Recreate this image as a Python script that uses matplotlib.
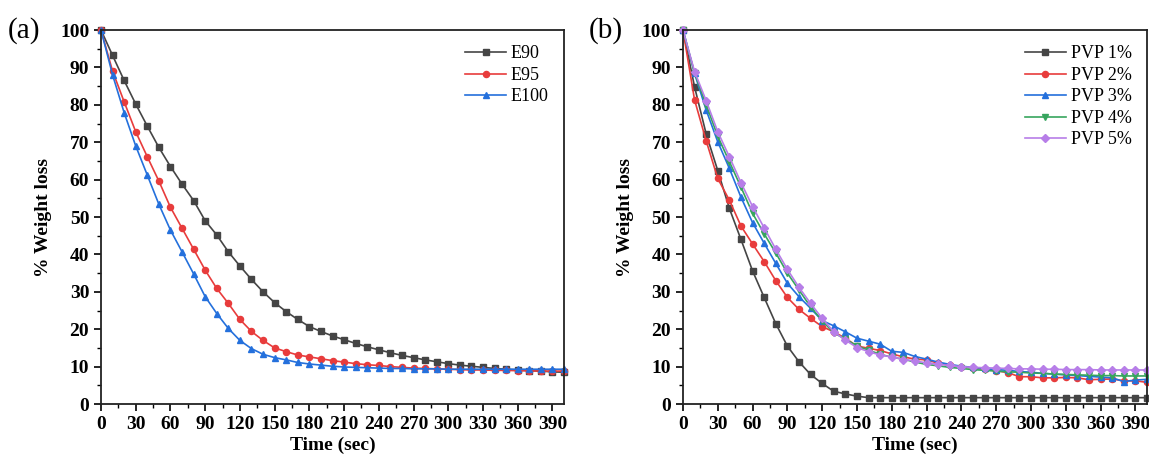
import numpy as np
import matplotlib
matplotlib.use('Agg')
import matplotlib.pyplot as plt
from matplotlib.ticker import MultipleLocator

# Tiempo de muestreo (s)
time = np.arange(0, 410, 10)

# (a) Pérdida de peso por grado de etanol
e90 = [100, 93.2, 86.5, 80.2, 74.3, 68.6, 63.5, 58.8, 54.4, 49.0, 45.2, 40.7, 36.9,
       33.3, 30.0, 27.1, 24.7, 22.6, 20.7, 19.4, 18.2, 17.2, 16.2, 15.3, 14.5, 13.7,
       13.0, 12.4, 11.8, 11.3, 10.8, 10.4, 10.1, 9.8, 9.5, 9.3, 9.1, 8.9, 8.8, 8.6, 8.5]
e95 = [100, 89.0, 80.8, 72.8, 66.1, 59.6, 52.6, 47.0, 41.4, 35.8, 30.9, 26.9, 22.6,
       19.4, 17.0, 15.0, 14.0, 13.1, 12.6, 12.1, 11.6, 11.2, 10.8, 10.5, 10.3, 10.0,
       9.8, 9.6, 9.5, 9.4, 9.3, 9.2, 9.1, 9.1, 9.0, 9.0, 8.9, 8.9, 8.8, 8.8, 8.8]
e100 = [100, 88.0, 77.9, 69.0, 61.2, 53.4, 46.5, 40.7, 34.8, 28.7, 24.2, 20.2, 17.0,
        14.8, 13.3, 12.4, 11.8, 11.1, 10.7, 10.4, 10.1, 9.9, 9.8, 9.7, 9.6, 9.5,
        9.5, 9.4, 9.4, 9.4, 9.3, 9.3, 9.3, 9.3, 9.3, 9.3, 9.3, 9.3, 9.3, 9.3, 9.3]

# (b) Pérdida de peso por concentración de PVP
pvp1 = [100, 84.8, 72.2, 62.4, 52.3, 44.0, 35.6, 28.5, 21.5, 15.5, 11.3, 7.9, 5.5,
        3.4, 2.7, 2.1, 1.7, 1.7, 1.7, 1.7, 1.7, 1.7, 1.7, 1.7, 1.7, 1.7,
        1.7, 1.7, 1.7, 1.7, 1.7, 1.7, 1.7, 1.7, 1.7, 1.7, 1.7, 1.7, 1.7, 1.7, 1.7]
pvp2 = [100, 81.3, 70.4, 60.3, 54.5, 47.6, 42.8, 38.1, 33.0, 28.5, 25.3, 22.9, 20.7,
        19.3, 17.6, 15.5, 14.9, 14.3, 13.4, 12.6, 12.0, 11.8, 10.9, 10.4, 10.0, 9.6,
        9.3, 8.9, 8.4, 7.3, 7.3, 7.0, 7.0, 7.1, 7.0, 6.5, 6.6, 6.7, 6.2, 6.2, 5.8]
pvp3 = [100, 88.4, 78.6, 70.1, 63.0, 55.3, 48.5, 43.0, 37.6, 32.3, 28.7, 25.6, 22.3,
        20.9, 19.3, 17.6, 16.8, 16.0, 14.1, 13.8, 12.7, 12.0, 11.2, 10.6, 10.1, 9.8,
        9.5, 9.2, 9.0, 8.7, 8.5, 8.2, 8.0, 7.8, 7.6, 7.4, 7.2, 7.0, 6.0, 6.4, 6.6]
pvp4 = [100, 88.5, 80.0, 71.6, 64.8, 58.0, 51.0, 45.5, 40.4, 35.0, 30.5, 26.0, 22.3,
        19.0, 17.4, 15.5, 14.4, 13.3, 12.5, 12.0, 11.2, 10.6, 10.2, 9.8, 9.5, 9.2,
        9.0, 8.8, 8.6, 8.5, 8.3, 8.2, 8.0, 7.9, 7.8, 7.7, 7.6, 7.6, 7.5, 7.5, 7.5]
pvp5 = [100, 88.9, 81.1, 72.8, 66.1, 59.2, 52.8, 47.1, 41.4, 36.0, 31.2, 26.9, 22.9,
        19.3, 17.1, 15.1, 14.0, 13.1, 12.6, 11.9, 11.5, 11.0, 10.6, 10.3, 10.0, 9.8,
        9.7, 9.6, 9.5, 9.4, 9.4, 9.3, 9.3, 9.2, 9.2, 9.2, 9.1, 9.1, 9.1, 9.1, 9.1]

black = '#454545'
red = '#e83c3c'
blue = '#2470dc'
green = '#37a55e'
purple = '#b77ee8'

plt.rcParams['font.family'] = ['Liberation Serif', 'DejaVu Serif']

fig = plt.figure(figsize=(11.49, 4.63), dpi=100)
ax_a = fig.add_axes([0.0879, 0.1274, 0.4030, 0.8078])
ax_b = fig.add_axes([0.5944, 0.1274, 0.4038, 0.8078])

series_a = [(e90, 'E90', black, 's'), (e95, 'E95', red, 'o'), (e100, 'E100', blue, '^')]
series_b = [(pvp1, 'PVP 1%', black, 's'), (pvp2, 'PVP 2%', red, 'o'),
            (pvp3, 'PVP 3%', blue, '^'), (pvp4, 'PVP 4%', green, 'v'),
            (pvp5, 'PVP 5%', purple, 'D')]

for ax, series in [(ax_a, series_a), (ax_b, series_b)]:
    for vals, lab, col, mk in series:
        ms = 3.8 if mk == 'D' else 4.4
        ax.plot(time, vals, color=col, marker=mk, markersize=ms, linewidth=1.2,
                label=lab, clip_on=False)
    ax.set_xlim(0, 400)
    ax.set_ylim(0, 100)
    ax.xaxis.set_major_locator(MultipleLocator(30))
    ax.xaxis.set_minor_locator(MultipleLocator(15))
    ax.yaxis.set_major_locator(MultipleLocator(10))
    ax.yaxis.set_minor_locator(MultipleLocator(5))
    ax.tick_params(which='major', direction='out', length=5, width=1.2)
    ax.tick_params(which='minor', direction='out', length=3, width=1.0)
    for lbl in ax.get_xticklabels() + ax.get_yticklabels():
        lbl.set_fontweight('bold')
        lbl.set_fontsize(14)
    for sp in ax.spines.values():
        sp.set_linewidth(1.3)
        sp.set_color('#222222')
    ax.set_xlabel('Time (sec)', fontsize=14, fontweight='bold', labelpad=3)
    ax.set_ylabel('% Weight loss', fontsize=14, fontweight='bold', labelpad=6)
    ax.legend(loc='upper right', frameon=False, fontsize=13, handlelength=2.3,
              handletextpad=0.25, labelspacing=0.25, borderaxespad=0.45)

fig.text(0.007, 0.935, '(a)', fontsize=21, ha='left', va='center')
fig.text(0.512, 0.935, '(b)', fontsize=21, ha='left', va='center')

fig.savefig('out.png', dpi=100)
